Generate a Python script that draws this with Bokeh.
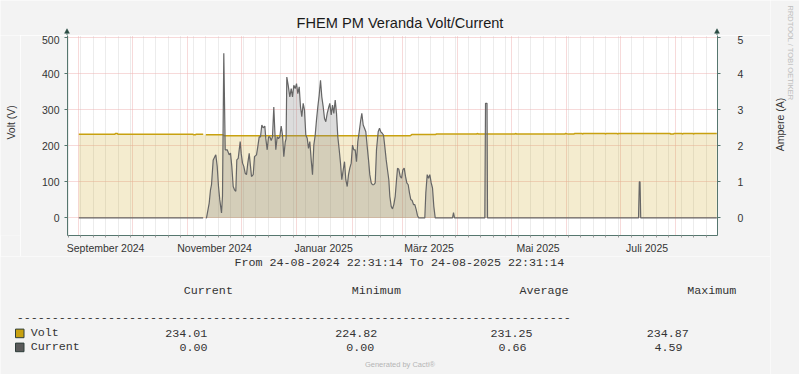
import math
import numpy as np
import pandas as pd
from bokeh.plotting import figure
from bokeh.layouts import row, column
from bokeh.models import Range1d, LinearAxis, FixedTicker, CustomJSTickFormatter
from bokeh.core.properties import value
from bokeh.embed import file_html
from bokeh.resources import INLINE

# ---------------- data (x = days since 2024-09-01) ----------------
ORIGIN = pd.Timestamp("2024-09-01")

volt_day = [0, 20.2, 20.5, 21.6, 21.9, 63.9, 64.2, 65.3, 65.6, 69.6, 70.3, 71.1, 80.8, 81.2,
            185.5, 186.3, 199.5, 200.2, 222.6, 223.0, 223.6, 244.0, 244.4, 245.0, 272.0, 272.4,
            273.9, 277.0, 277.4, 281.6, 281.9, 282.4, 294.4, 294.7, 295.1, 301.2, 301.5, 301.9,
            330.9, 331.1, 332.8, 333.1, 337.5, 337.8, 338.2, 343.7, 344.0, 344.4, 357.0]
volt_val = [232.4, 232.4, 234.0, 234.0, 232.4, 232.4, 230.5, 230.5, 232.4, 232.4, np.nan, 230.5, 230.5, 228.0,
            228.0, 231.2, 231.2, 232.9, 232.9, 234.2, 232.9, 232.9, 234.2, 232.9, 232.9, 234.5,
            232.6, 232.6, 234.5, 234.5, 232.6, 234.5, 234.5, 232.6, 234.5, 234.5, 232.6, 234.5,
            234.5, 232.6, 232.6, 234.5, 234.5, 232.6, 234.5, 234.5, 232.6, 234.5, 234.5]

cur_day = [0, 69.6, 70.3, 71.1, 71.46, 72.97, 73.70, 74.26, 75.21, 76.11, 76.67, 77.45, 78.18, 78.90,
           79.86, 80.41, 81.14, 81.93, 83.05, 84.16, 84.89, 85.62, 86.40, 87.13, 87.86, 88.42,
           89.20, 89.76, 90.32, 90.88, 91.61, 92.33, 93.12, 93.85, 94.57, 95.36, 96.08, 96.64,
           97.60, 98.32, 99.44, 100.17, 100.95, 101.68, 102.41, 103.19, 104.09, 104.65, 105.43,
           106.16, 106.88, 107.67, 108.39, 109.12, 109.68, 110.24, 111.02, 111.75, 112.48, 113.26,
           113.99, 114.72, 115.50, 116.0, 116.40, 117.18, 118.08, 118.86, 119.59, 120.31, 121.10,
           121.83, 122.55, 123.34, 124.06, 124.79, 125.57, 126.30, 127.03, 127.81, 128.54, 129.27,
           130.05, 130.78, 131.51, 132.29, 133.02, 133.74, 134.53, 135.26, 135.98, 136.77, 137.49,
           138.22, 139.00, 139.73, 140.46, 141.24, 141.97, 142.70, 143.48, 144.21, 144.94, 145.72,
           146.45, 147.17, 147.96, 148.69, 149.41, 150.20, 150.92, 151.65, 152.43, 153.16, 153.89,
           154.67, 155.40, 156.13, 156.91, 157.64, 158.37, 159.15, 159.88, 160.61, 161.39, 162.12,
           162.84, 163.63, 164.35, 165.08, 165.87, 166.59, 167.54, 168.27, 169.00, 169.78, 170.51,
           171.24, 172.02, 172.75, 173.48, 174.04, 174.82, 175.55, 176.27, 177.06, 177.79, 178.35,
           179.07, 179.86, 180.59, 181.31, 182.09, 182.82, 183.55, 184.33, 185.06, 185.79, 186.57,
           187.30, 188.03, 188.81, 189.54, 190.26, 193.62, 194.18, 194.96, 195.69, 196.42, 197.20,
           197.93, 198.66, 199.44, 209.12, 209.68, 210.24, 227.20, 227.59, 228.43, 228.71,
           313.21, 313.66, 314.05, 314.44, 357.0]
cur_amp = [0, 0, np.nan, 0, 0, 0.41, 0.78, 0.92, 1.61, 1.70, 1.75, 1.43, 0.87, 0.50,
           0.14, 0.60, 4.57, 1.89, 1.89, 1.75, 1.80, 1.43, 0.87, 0.78, 0.74, 1.61,
           1.65, 1.89, 2.12, 1.79, 1.52, 1.43, 1.24, 1.20, 1.52, 1.79, 1.43, 1.15,
           1.20, 1.70, 1.75, 1.98, 2.25, 2.25, 2.58, 2.50, 2.55, 2.20, 1.89,
           2.25, 2.25, 2.15, 2.25, 3.08, 2.42, 1.89, 2.25, 2.20, 2.25, 2.55,
           2.30, 1.70, 2.10, 2.20, 3.91, 3.68, 3.36, 3.59, 3.36, 3.68, 3.59,
           3.73, 3.45, 3.64, 3.08, 2.81, 3.18, 2.99, 2.30, 2.21, 1.93, 2.12,
           1.61, 1.20, 2.02, 2.30, 2.72, 3.08, 3.41, 3.82, 3.36, 3.08, 2.76,
           2.67, 2.90, 3.05, 3.18, 2.86, 3.13, 2.90, 3.27, 2.90, 2.25, 1.89,
           1.52, 1.06, 1.33, 1.56, 1.06, 0.87, 1.20, 1.38, 1.52, 2.02, 1.89,
           1.89, 1.56, 2.12, 2.39, 2.67, 2.90, 2.58, 2.49, 2.39, 1.98, 1.61,
           1.20, 0.97, 0.92, 0.92, 0.97, 1.90, 2.39, 2.49, 2.39, 2.35, 2.30,
           1.98, 1.61, 1.33, 1.06, 0.60, 0.32, 0.25, 0.37, 0.60, 1.06, 1.38,
           1.35, 1.15, 1.10, 1.33, 1.38, 1.15, 0.97, 0.92, 0.69, 0.51, 0.48,
           0.37, 0.37, 0.23, 0.06, 0, 0, 0.69, 1.20, 1.10, 1.20, 0.97,
           0.83, 0.32, 0, 0, 0.15, 0, 0, 3.18, 3.18, 0,
           0, 1.00, 1.00, 0, 0]

volt_ticks = [0, 100, 200, 300, 400, 500]
amp_ticks = [0, 1, 2, 3, 4, 5]
month_label_dates = ["2024-09-01", "2024-11-01", "2025-01-01", "2025-03-01", "2025-05-01", "2025-07-01"]
month_label_text = ["September 2024", "November 2024", "Januar 2025", "März 2025", "Mai 2025", "Juli 2025"]

legend_names = ["Volt", "Current"]
legend_colors = ["#c8a110", "#5a5a5a"]
stat_headers = ["Current", "Minimum", "Average", "Maximum"]
volt_stats = [234.01, 224.82, 231.25, 234.87]
cur_stats = [0.00, 0.00, 0.66, 4.59]
period_text = "From 24-08-2024 22:31:14 To 24-08-2025 22:31:14"
title_text = "FHEM PM Veranda Volt/Current"

# ---------------- geometry (page px) ----------------
W, H = 799, 374
LEFT_W, RIGHT_W = 20, 29          # side strips
TOP_H, TABLE_TOP = 35, 256        # main chart strip spans TOP_H..TABLE_TOP
FL, FR, FT, FB = 67, 717, 35, 236 # plot frame edges
X0, X1 = -6.32, 357.4
Y0 = -(FB - 218.3) / 0.362
Y1 = (218.3 - FT) / 0.362
BG = "#f3f3f3"
SANS = "Liberation Sans"
MONO = "Liberation Mono"
AXIS = "#55766e"
AXIS_DARK = "#2b4d44"
RED_GRID = "#eeb4b4"
GREY_GRID = "#d9d9d9"

def days(d):
    return (pd.Timestamp(d) - ORIGIN) / pd.Timedelta(days=1)

month_starts = [days(d) for d in pd.date_range("2024-09-01", "2025-08-01", freq="MS")]
week_lines = [days(d) for d in pd.date_range("2024-08-26", "2025-08-24", freq="7D")]
label_pos = [days(d) + 15 for d in month_label_dates]


def strip(x0, y0, w, h):
    """A text strip whose data coordinates are page pixels (y downwards)."""
    f = figure(width=w, height=h, output_backend="svg", toolbar_location=None, title=None,
               x_range=Range1d(x0, x0 + w), y_range=Range1d(y0 + h, y0),
               x_axis_type=None, y_axis_type=None, min_border=0,
               background_fill_color=BG, border_fill_color=BG, outline_line_color=None)
    return f


def put(f, text, x, y, size, font=SANS, color="#333333", align="left", angle=0.0):
    # y is the vertical centre of the text
    f.text(x=[x], y=[y], text=[text], text_font=value(font), text_font_size=value(size),
           text_color=color, text_align=align, text_baseline="middle", angle=angle)


# ---------------- top strip: title + arrow heads ----------------
top = strip(0, 0, W - RIGHT_W, TOP_H)
put(top, title_text, 399.5, 22.6, "14.6px", color="#1a1a1a", align="center")
for ax_x in (FL - 0.5, FR - 0.5):
    top.patch(x=[ax_x - 2.4, ax_x, ax_x + 2.4], y=[FT - 2.2, FT - 6.8, FT - 2.2],
              fill_color=AXIS_DARK, line_color=AXIS_DARK, line_width=0.5)
    top.segment(x0=[ax_x], y0=[FT - 2.5], x1=[ax_x], y1=[FT], line_color=AXIS, line_width=1)

# ---------------- left strip: Volt (V) ----------------
left = strip(0, TOP_H, LEFT_W, TABLE_TOP - TOP_H)
put(left, "Volt (V)", 10, 131, "10.5px", align="center", angle=math.pi / 2)

# ---------------- main chart ----------------
p = figure(width=W - RIGHT_W - LEFT_W, height=TABLE_TOP - TOP_H, output_backend="svg",
           toolbar_location=None, title=None,
           x_range=Range1d(X0, X1), y_range=Range1d(Y0, Y1),
           min_border_left=FL - LEFT_W, min_border_right=W - RIGHT_W - FR,
           min_border_top=FT - TOP_H, min_border_bottom=TABLE_TOP - FB,
           background_fill_color="white", border_fill_color=BG, outline_line_color=None)
p.extra_y_ranges = {"amp": Range1d(Y0 / 100.0, Y1 / 100.0)}

p.xgrid.ticker = FixedTicker(ticks=month_starts, minor_ticks=week_lines)
p.xgrid.grid_line_color = RED_GRID
p.xgrid.grid_line_dash = "1 1"
p.xgrid.minor_grid_line_color = GREY_GRID
p.xgrid.minor_grid_line_dash = "1 1"
p.ygrid.ticker = FixedTicker(ticks=volt_ticks)
p.ygrid.grid_line_color = RED_GRID
p.ygrid.grid_line_dash = "1 1"

vd = np.array(volt_day, dtype=float)
vv = np.array(volt_val, dtype=float)
cd = np.array(cur_day, dtype=float)
ca = np.array(cur_amp, dtype=float)
p.varea(x=vd, y1=np.where(np.isnan(vv), np.nan, 0.0), y2=vv, fill_color=legend_colors[0], fill_alpha=0.2)
p.line(vd, vv, line_color=legend_colors[0], line_width=1.5)
p.varea(x=cd, y1=np.where(np.isnan(ca), np.nan, 0.0), y2=ca, y_range_name="amp",
        fill_color="#808080", fill_alpha=0.28)
p.line(cd, ca, y_range_name="amp", line_color="#666666", line_width=1.2)

xa = p.xaxis[0]
xa.ticker = FixedTicker(ticks=label_pos, minor_ticks=week_lines)
xa.formatter = CustomJSTickFormatter(args=dict(pos=label_pos, txt=month_label_text),
    code="const i = pos.findIndex(v => Math.abs(v - tick) < 1e-6); return i >= 0 ? txt[i] : '';")
xa.axis_line_color = AXIS
xa.major_tick_line_color = None
xa.major_tick_out = 0
xa.major_tick_in = 0
xa.minor_tick_line_color = "#9a9a9a"
xa.minor_tick_out = 2
xa.minor_tick_in = 0
xa.major_label_standoff = 4
xa.major_label_text_font = SANS
xa.major_label_text_font_size = "10.5px"
xa.major_label_text_color = "#333333"

ya = p.yaxis[0]
ya.ticker = FixedTicker(ticks=volt_ticks)
ya.axis_line_color = AXIS
ya.major_tick_line_color = AXIS
ya.major_tick_out = 3
ya.major_tick_in = 0
ya.minor_tick_line_color = None
ya.major_label_standoff = 5
ya.major_label_text_font = SANS
ya.major_label_text_font_size = "10.5px"
ya.major_label_text_color = "#333333"

ra = LinearAxis(y_range_name="amp", ticker=FixedTicker(ticks=amp_ticks))
ra.axis_line_color = AXIS
ra.major_tick_line_color = AXIS
ra.major_tick_out = 3
ra.major_tick_in = 0
ra.minor_tick_line_color = None
ra.major_label_standoff = 17
ra.major_label_text_font = SANS
ra.major_label_text_font_size = "10.5px"
ra.major_label_text_color = "#333333"
p.add_layout(ra, "right")

# ---------------- right strip: Ampere (A) + RRDTOOL ----------------
right = strip(W - RIGHT_W, 0, RIGHT_W, H)
put(right, "Ampere (A)", 779, 124, "10.5px", align="center", angle=math.pi / 2)
put(right, "RRDTOOL / TOBI OETIKER", 789.5, 5, "7.5px", color="#bdbdbd", align="left",
    angle=-math.pi / 2)

# ---------------- table strip ----------------
tbl = strip(0, TABLE_TOP, W - RIGHT_W, H - TABLE_TOP)
put(tbl, period_text, 234, 262.0, "11.7px", font=MONO)
for h, x in zip(stat_headers, [183.3, 351.3, 519, 686.7]):
    put(tbl, h, x, 290.3, "11.7px", font=MONO)
put(tbl, "-" * 79, 16.2, 316.7, "11.7px", font=MONO)
row_y = [332.9, 346.9]
stat_x = [[164.7, 334.7, 490, 646.3], [179, 345.7, 498, 654]]
for i, (name, stats) in enumerate(zip(legend_names, [volt_stats, cur_stats])):
    tbl.quad(left=[15], right=[23.5], top=[row_y[i] - 4.3], bottom=[row_y[i] + 4.3],
             fill_color=legend_colors[i], line_color="#2e3e3a", line_width=1)
    put(tbl, name, 30.2, row_y[i], "11.7px", font=MONO)
    for v, x in zip(stats, stat_x[i]):
        put(tbl, f"{v:.2f}", x, row_y[i], "11.7px", font=MONO)
put(tbl, "Generated by Cacti®", 399.5, 363.5, "7.5px", color="#b5b5b5", align="center")

layout = row(column(top, row(left, p), tbl), right)
open("out.html", "w").write(file_html(layout, INLINE))
